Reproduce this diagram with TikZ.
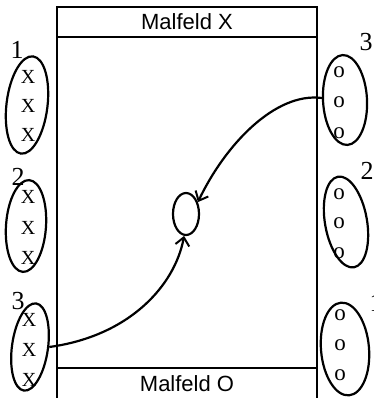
\documentclass[tikz,border=0pt]{standalone}
\usepackage{fontspec}
\setmainfont{Liberation Serif}
\newfontfamily\labsans{Liberation Sans}
\usetikzlibrary{shapes.geometric,arrows.meta}
\tikzset{
  frame/.style={draw, line width=1.8pt},
  grp/.style={draw, ellipse, line width=2.2pt, inner sep=0pt},
  tok/.style={font=\fontsize{20}{20}\selectfont, inner sep=0pt},
  otok/.style={font=\fontsize{23}{23}\selectfont, inner sep=0pt},
  num/.style={font=\fontsize{26}{26}\selectfont, inner sep=0pt},
  title/.style={font=\labsans\fontsize{22}{22}\selectfont, inner sep=0pt},
  arr/.style={line width=2.2pt, -{Straight Barb[length=8pt,width=14pt,line width=2pt]}}
}
\begin{document}
\begin{tikzpicture}[x=1pt,y=-1pt]
\useasboundingbox (0,0) rectangle (373,398);
% field frame
\draw[frame] (57,420) -- (57,7) -- (317,7) -- (317,420);
\draw[frame] (57,37) -- (317,37);
\draw[frame] (57,368) -- (317,368);
\node[title] (tx) at (187,22) {Malfeld X};
\node[title] (to) at (187,384) {Malfeld O};
% left groups
\node[grp, minimum width=41pt, minimum height=98pt, rotate=-7] (l1) at (27,105) {};
\node[grp, minimum width=40pt, minimum height=92pt, rotate=-4] (l2) at (26,226) {};
\node[grp, minimum width=36pt, minimum height=88pt, rotate=-8] (l3) at (30,347) {};
\foreach \n/\y in {a/77,b/106,c/135}{\node[tok] (l1\n) at (28,\y) {X};}
\foreach \n/\y in {a/197,b/228,c/258}{\node[tok] (l2\n) at (28,\y) {X};}
\foreach \n/\y in {a/320,b/350,c/380}{\node[tok] (l3\n) at (29,\y) {X};}
\node[num] (n1) at (17,50) {1};
\node[num] (n2) at (18,177) {2};
\node[num] (n3) at (18,301) {3};
% right groups
\node[grp, minimum width=44pt, minimum height=90pt, rotate=3] (r3) at (345,100) {};
\node[grp, minimum width=42pt, minimum height=92pt, rotate=10] (r2) at (346,222) {};
\node[grp, minimum width=48pt, minimum height=93pt, rotate=5] (r1) at (345,349) {};
\foreach \n/\y in {a/72,b/102,c/133}{\node[otok] (r3\n) at (339,\y) {o};}
\foreach \n/\y in {a/194,b/223,c/253}{\node[otok] (r2\n) at (339,\y) {o};}
\foreach \n/\y in {a/315,b/345,c/375}{\node[otok] (r1\n) at (340,\y) {o};}
\node[num] (m3) at (366,42) {3};
\node[num] (m2) at (367,171) {2};
\node[num] (m1) at (376,303) {1};
% centre
\node[draw, ellipse, line width=2.2pt, minimum width=26pt, minimum height=42pt, inner sep=0pt] (c) at (186,214) {};
% moves
\draw[arr] (r3.172) .. controls (275,92) and (225,145) .. (c.45);
\draw[arr] (l3.8) .. controls (130,336) and (175,285) .. (c.-95);
\end{tikzpicture}
\end{document}
